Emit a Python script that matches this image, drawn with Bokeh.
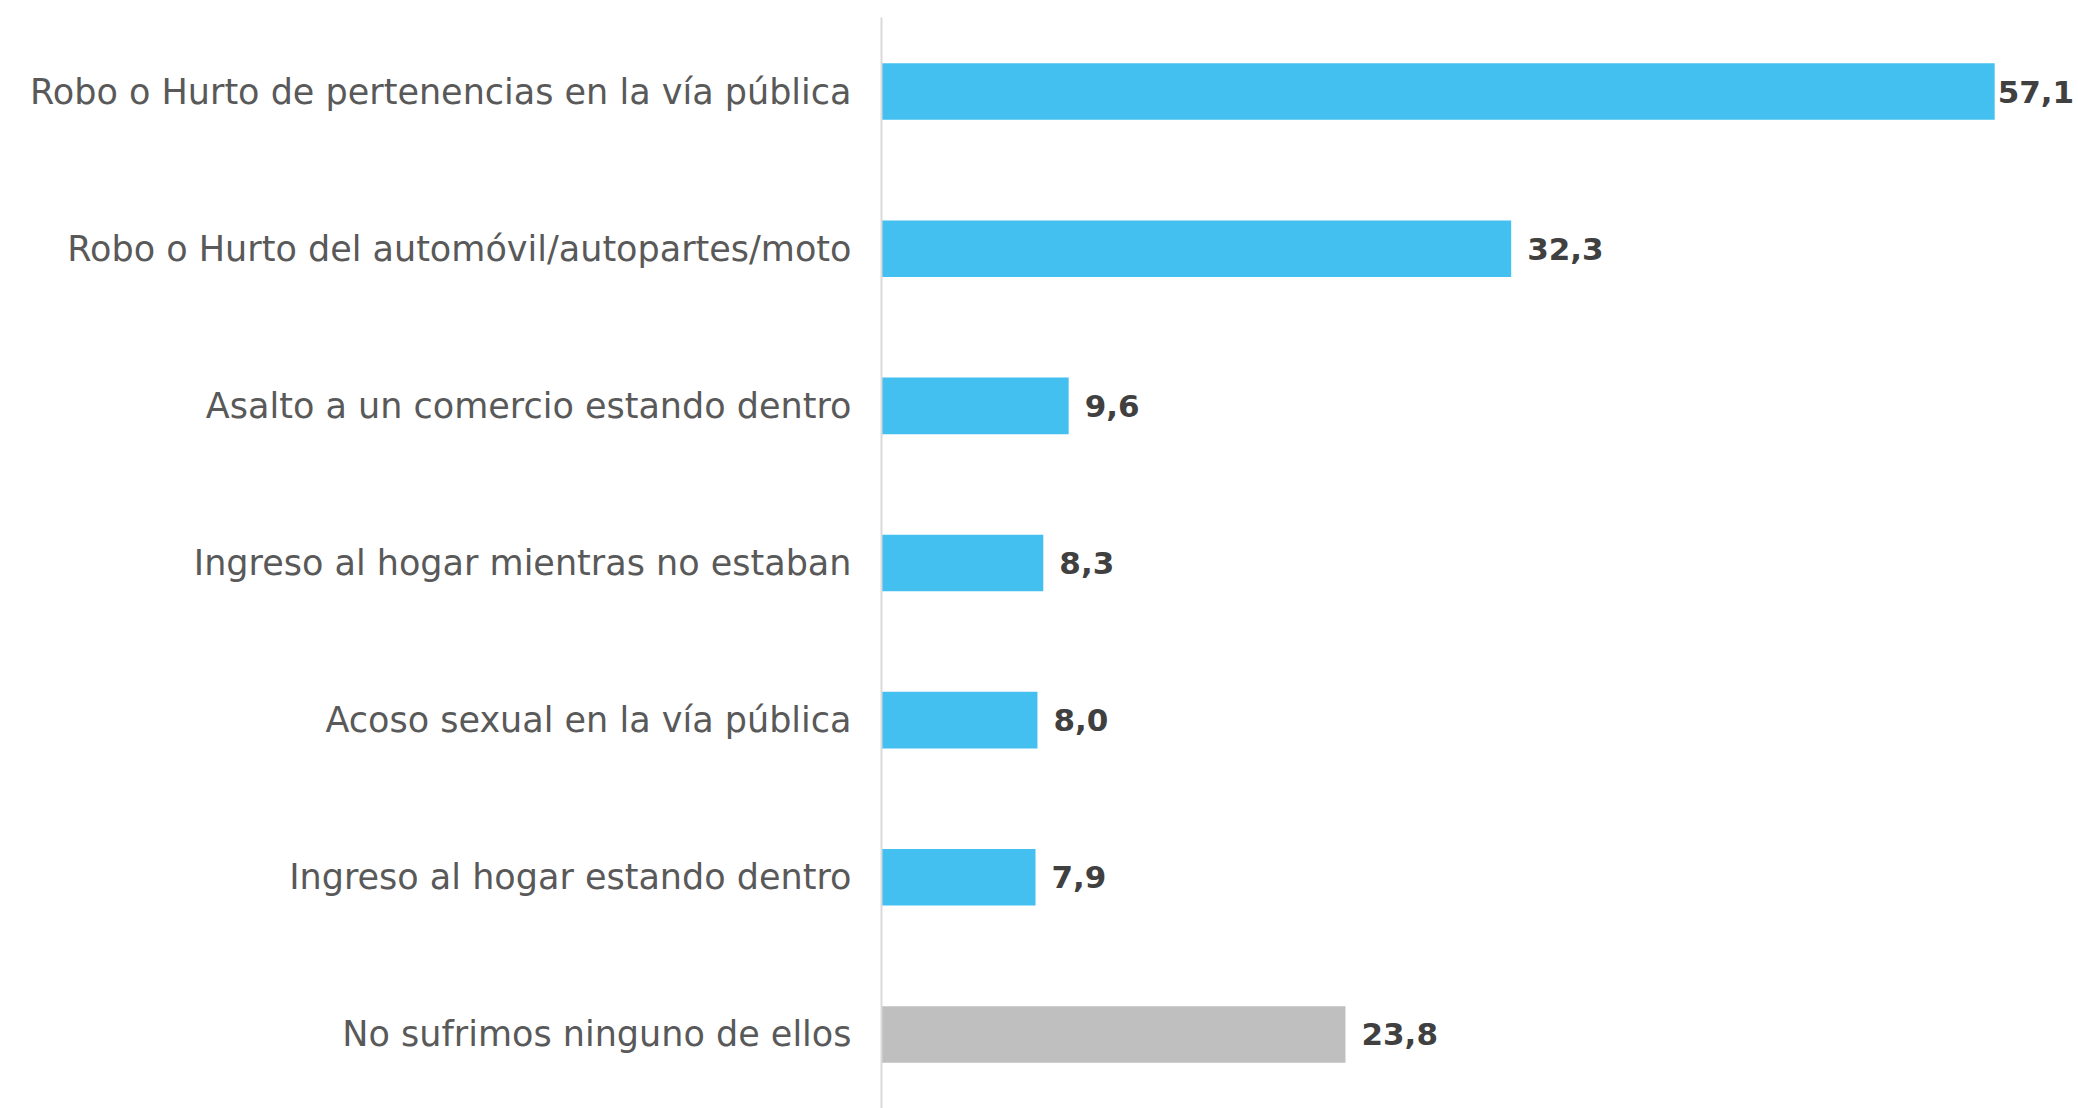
from bokeh.plotting import figure
from bokeh.models import ColumnDataSource, FactorRange, Range1d
from bokeh.core.properties import value
from bokeh.embed import file_html
from bokeh.resources import INLINE

categories = [
    "Robo o Hurto de pertenencias en la vía pública",
    "Robo o Hurto del automóvil/autopartes/moto",
    "Asalto a un comercio estando dentro",
    "Ingreso al hogar mientras no estaban",
    "Acoso sexual en la vía pública",
    "Ingreso al hogar estando dentro",
    "No sufrimos ninguno de ellos",
]
values = [57.1, 32.3, 9.6, 8.3, 8.0, 7.9, 23.8]
labels = ["57,1", "32,3", "9,6", "8,3", "8,0", "7,9", "23,8"]

BLUE = "#43C0EF"
GRAY = "#BFBFBF"
colors = [GRAY if c.startswith("No sufrimos") else BLUE for c in categories]
vmax = max(values)
offsets = [3 if v == vmax else 16 for v in values]

src = ColumnDataSource(dict(cat=categories, val=values, lab=labels,
                            color=colors, off=offsets))

p = figure(
    width=2078, height=1108,
    y_range=FactorRange(*list(reversed(categories)), range_padding=-0.0083),
    x_range=Range1d(0, 61.4),
    output_backend="svg", toolbar_location=None,
    min_border_left=881, min_border_right=0,
    min_border_top=17, min_border_bottom=0,
)
p.hbar(y="cat", left=0, right="val", height=0.36, color="color",
       line_color=None, source=src)
p.text(x="val", y="cat", text="lab", x_offset="off", source=src,
       text_align="left", text_baseline="middle",
       text_font=value("DejaVu Sans"), text_font_style="bold",
       text_font_size="31px", text_color="#404040")

p.xaxis.visible = False
p.xgrid.visible = False
p.ygrid.visible = False
p.outline_line_color = None
ax = p.yaxis[0]
ax.axis_line_color = "#D9D9D9"
ax.axis_line_width = 2
ax.major_tick_line_color = None
ax.minor_tick_line_color = None
ax.major_label_text_font = "DejaVu Sans"
ax.major_label_text_font_size = "35px"
ax.major_label_text_color = "#595959"
ax.major_label_standoff = 24

open("out.html", "w").write(file_html(p, INLINE))
